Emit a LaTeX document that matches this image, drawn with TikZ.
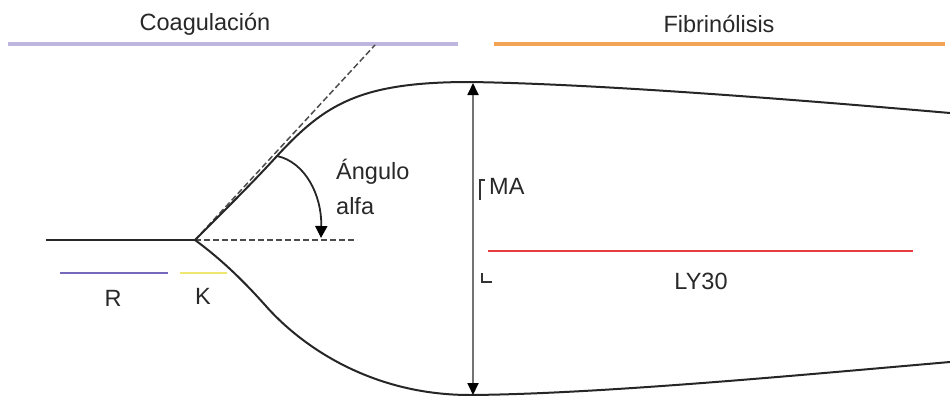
\documentclass[tikz,border=0pt]{standalone}
\usepackage{fontspec}
\setmainfont{Liberation Sans}
\usetikzlibrary{arrows.meta}
\definecolor{lav}{RGB}{190,182,222}
\definecolor{orng}{RGB}{243,163,84}
\definecolor{redl}{RGB}{232,60,64}
\definecolor{purp}{RGB}{118,104,186}
\definecolor{yell}{RGB}{240,232,110}
\definecolor{txt}{RGB}{40,40,40}
\tikzset{
  lbl/.style={text=txt,font=\fontsize{23.5}{28}\selectfont,inner sep=0pt},
  band/.style={line width=4.5pt},
  curve/.style={line width=2pt,black!85},
  guide/.style={line width=1.5pt,dashed,dash pattern=on 6pt off 3pt,black!70},
  tick/.style={line width=1.8pt,black!80},
}
\begin{document}
\begin{tikzpicture}[x=1pt,y=-1pt]
\useasboundingbox (0,0) rectangle (950,396);
% headers
\node[lbl] (coag) at (205,24) {Coagulación};
\node[lbl] (fibr) at (719,24) {Fibrinólisis};
\coordinate (c1) at (8,44); \coordinate (c2) at (458,44);
\coordinate (f1) at (494,44); \coordinate (f2) at (945,44);
\draw[band,lav] (c1) -- (c2);
\draw[band,orng] (f1) -- (f2);
% baseline and branch
\coordinate (start) at (46,240);
\coordinate (br) at (195,240);
\coordinate (tan) at (375,45);
\coordinate (hz) at (357,240);
\coordinate (mid) at (277,156);
\coordinate (top) at (470,82);
\coordinate (inf) at (265,305);
\coordinate (bot) at (470,395);
\coordinate (rtop) at (950,113);
\coordinate (rbot) at (950,362);
\draw[guide] (br) -- (tan);
\draw[guide] (br) -- (hz);
\draw[curve] (start) -- (br);
\draw[curve] (br) .. controls (235,200) and (255,180) .. (mid)
  .. controls (325,104) and (360,82) .. (top)
  .. controls (600,84) and (800,100) .. (rtop);
\draw[curve] (br) .. controls (225,262) and (248,286) .. (inf)
  .. controls (300,345) and (370,395) .. (bot)
  .. controls (600,394) and (800,375) .. (rbot);
% MA arrow
\coordinate (at) at (473,83);
\coordinate (ab) at (473,395);
\draw[line width=1.8pt,black!55,{Triangle[length=12pt,width=11pt,black]}-{Triangle[length=12pt,width=11pt,black]}] (at) -- (ab);
% brackets
\coordinate (b1a) at (480,200); \coordinate (b1b) at (480,180); \coordinate (b1c) at (485,180);
\draw[tick] (b1a) -- (b1b) -- (b1c);
\coordinate (b2a) at (482,273); \coordinate (b2b) at (482,282); \coordinate (b2c) at (492,282);
\draw[tick] (b2a) -- (b2b) -- (b2c);
\node[lbl,anchor=west] (ma) at (489,186) {MA};
% LY30
\coordinate (ly1) at (488,251); \coordinate (ly2) at (913,251);
\draw[line width=2pt,redl] (ly1) -- (ly2);
\node[lbl] (ly) at (701,281) {LY30};
% angle alfa
\coordinate (ab2) at (321,238);
\draw[line width=1.8pt,black!85,-{Triangle[length=12pt,width=12pt,black]}] (mid) .. controls (305,162) and (322,195) .. (ab2);
\node[lbl,anchor=west] (ang) at (336,172) {Ángulo};
\node[lbl,anchor=west] (alfa) at (336,206) {alfa};
% R and K
\coordinate (r1) at (60,273); \coordinate (r2) at (168,273);
\draw[line width=2.2pt,purp] (r1) -- (r2);
\node[lbl] (R) at (113,298) {R};
\coordinate (k1) at (180,273); \coordinate (k2) at (227,273);
\draw[line width=2.2pt,yell] (k1) -- (k2);
\node[lbl] (K) at (203,296) {K};
\end{tikzpicture}
\end{document}
